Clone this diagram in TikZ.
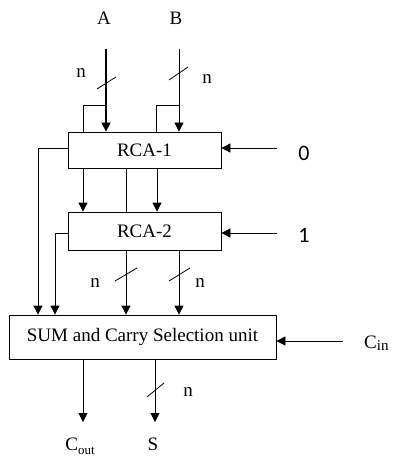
\documentclass[tikz,border=0pt]{standalone}
\usepackage{fontspec}
\setmainfont{Liberation Serif}
\newfontfamily\calib{Carlito}
\usetikzlibrary{arrows.meta}
\begin{document}
\begin{tikzpicture}[x=1pt,y=-1pt,
  blk/.style={draw, line width=0.8pt, rectangle, inner sep=0pt, font=\fontsize{19}{22}\selectfont},
  lbl/.style={inner sep=0pt, font=\fontsize{19}{22}\selectfont},
  num/.style={inner sep=0pt, font=\calib\fontsize{22}{26}\selectfont},
  wire/.style={line width=0.8pt},
  arr/.style={line width=0.8pt, -{Triangle[length=9pt,width=9pt]}},
  slash/.style={line width=0.8pt}]
\useasboundingbox (0,0) rectangle (393,457);
\fill[white] (0,0) rectangle (393,457);

% blocks
\node[blk, minimum width=153pt, minimum height=36pt] (rca1) at (144.5,150) {RCA-1};
\node[blk, minimum width=153pt, minimum height=38pt] (rca2) at (144.5,231) {RCA-2};
\node[blk, minimum width=267pt, minimum height=44pt] (sum) at (142.5,337) {SUM and Carry Selection unit};

% labels
\node[lbl] (la) at (104,18) {A};
\node[lbl] (lb) at (176,18) {B};
\node[lbl] (na) at (81,73) {n};
\node[lbl] (nb) at (207,79) {n};
\node[lbl] (n1) at (95,283) {n};
\node[lbl] (n2) at (200,283) {n};
\node[lbl] (ns) at (188,392) {n};
\node[num] (l0) at (304,153) {0};
\node[num] (l1) at (304,235) {1};
\node[lbl, anchor=west] (lcin) at (364,343) {C\raisebox{-2pt}{\fontsize{15}{18}\selectfont in}};
\node[lbl] (lcout) at (80,446) {C\raisebox{-4pt}{\fontsize{13}{16}\selectfont out}};
\node[lbl] (ls) at (153,444) {S};

% input A
\coordinate (a0) at (106,49);
\coordinate (aj) at (106,105);
\coordinate (al) at (83,105);
\draw[arr, line width=1.4pt] (a0) -- (rca1.north -| a0);
\draw[wire] (aj) -- (al) -- (rca1.north -| al);
\draw[slash] (97,89) -- (116,77);
% input B
\coordinate (b0) at (179,49);
\coordinate (bj) at (179,105);
\coordinate (bl) at (156,105);
\draw[arr] (b0) -- (rca1.north -| b0);
\draw[wire] (bj) -- (bl) -- (rca1.north -| bl);
\draw[slash] (169,80) -- (188,67);

% 0 and 1
\coordinate (c0) at (277,148);
\coordinate (c1) at (277,233);
\draw[arr] (c0) -- (rca1.east |- c0);
\draw[arr] (c1) -- (rca2.east |- c1);

% RCA-1 to RCA-2
\coordinate (m1) at (83,0);
\coordinate (m2) at (126,0);
\coordinate (m3) at (157,0);
\draw[arr] (rca1.south -| m1) -- (rca2.north -| m1);
\draw[wire] (rca1.south -| m2) -- (rca2.north -| m2);
\draw[arr] (rca1.south -| m3) -- (rca2.north -| m3);

% left feeds
\coordinate (f1) at (38,148);
\coordinate (f2) at (55,233);
\draw[arr] (rca1.west |- f1) -- (f1) -- (sum.north -| f1);
\draw[arr] (rca2.west |- f2) -- (f2) -- (sum.north -| f2);

% RCA-2 to SUM
\coordinate (o1) at (126,0);
\coordinate (o2) at (179,0);
\draw[arr] (rca2.south -| o1) -- (sum.north -| o1);
\draw[arr] (rca2.south -| o2) -- (sum.north -| o2);
\draw[slash] (115,281) -- (137,268);
\draw[slash] (169,281) -- (190,268);

% Cin
\coordinate (ci) at (343,341);
\draw[arr] (ci) -- (sum.east |- ci);

% outputs
\coordinate (co) at (83,422);
\coordinate (so) at (155,422);
\draw[arr] (sum.south -| co) -- (co);
\draw[arr] (sum.south -| so) -- (so);
\draw[slash] (147,397) -- (164,383);
\end{tikzpicture}
\end{document}
